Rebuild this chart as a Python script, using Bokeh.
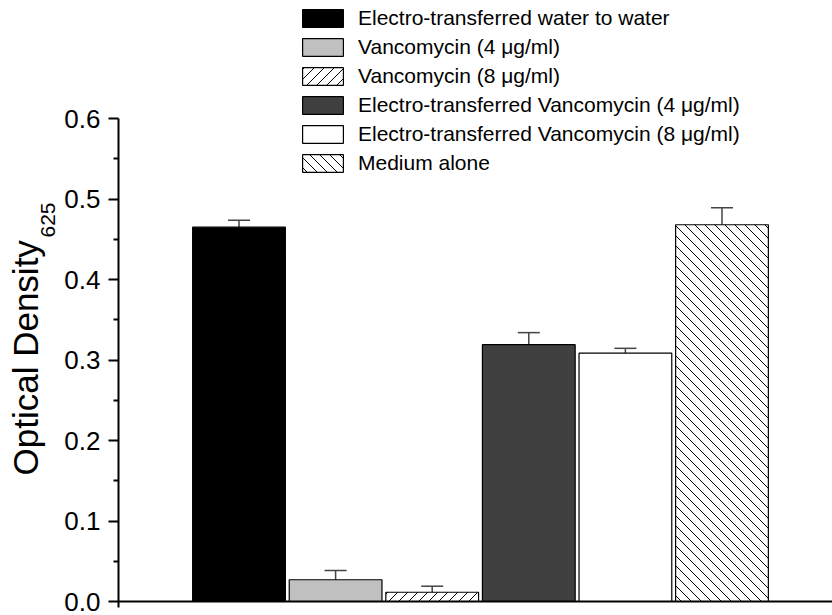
from math import pi
from urllib.parse import quote
from bokeh.plotting import figure
from bokeh.models import (ColumnDataSource, Whisker, TeeHead, Label, Legend, LegendItem,
                          FixedTicker, Range1d, PrintfTickFormatter, ImageURLTexture)
from bokeh.embed import file_html
from bokeh.resources import INLINE

# ---- data ----
categories = [
    "Electro-transferred water to water",
    "Vancomycin (4 \u03bcg/ml)",
    "Vancomycin (8 \u03bcg/ml)",
    "Electro-transferred Vancomycin (4 \u03bcg/ml)",
    "Electro-transferred Vancomycin (8 \u03bcg/ml)",
    "Medium alone",
]
x_pos = [1, 2, 3, 4, 5, 6]
values = [0.465, 0.027, 0.0115, 0.319, 0.3085, 0.468]
errors = [0.0087, 0.0115, 0.0075, 0.015, 0.006, 0.021]
fill_colors = ["#000000", "#c0c0c0", "#ffffff", "#404040", "#ffffff", "#ffffff"]
hatches = [" ", " ", "fwd", " ", " ", "back"]
y_ticks = [0.0, 0.1, 0.2, 0.3, 0.4, 0.5, 0.6]
y_minor = [0.05, 0.15, 0.25, 0.35, 0.45, 0.55]

src = ColumnDataSource(dict(
    x=x_pos, top=values, upper=[v + e for v, e in zip(values, errors)],
    color=fill_colors, hatch=hatches, label=categories,
))

FONT = "Liberation Sans"
W, H = 832, 615
PX_X = 96.6      # pixels per category
PX_Y = 805.0     # pixels per unit of optical density
axis_x = 1 - 120.5 / PX_X           # data x of the y axis
x_start = axis_x - 118 / PX_X
x_end = axis_x + (W - 118) / PX_X
y_start = -(H - 601) / PX_Y
y_end = 601 / PX_Y

p = figure(width=W, height=H, x_range=Range1d(x_start, x_end), y_range=Range1d(y_start, y_end),
           output_backend="svg", toolbar_location=None,
           min_border_left=0, min_border_right=0, min_border_top=0, min_border_bottom=0)
p.outline_line_color = None
p.xgrid.visible = False
p.ygrid.visible = False
p.background_fill_color = "white"


def tile(path):
    svg = ("<svg xmlns='http://www.w3.org/2000/svg' width='10' height='10'>"
           "<path d='%s' stroke='black' stroke-width='1' fill='none'/></svg>" % path)
    return "data:image/svg+xml," + quote(svg, safe="")


hatch_extra = {
    "back": ImageURLTexture(url=tile("M-1 -1L11 11M-1 9L1 11M9 -1L11 1")),
    "fwd": ImageURLTexture(url=tile("M-1 11L11 -1M-1 1L1 -1M9 11L11 9")),
}

r = p.vbar(x="x", top="top", bottom=0, width=0.96, source=src,
           fill_color="color", line_color="black", line_width=1.2,
           hatch_pattern="hatch", hatch_color="black", hatch_scale=10, hatch_weight=1,
           hatch_extra=hatch_extra)

wh = Whisker(source=src, base="x", lower="top", upper="upper", dimension="height",
             line_color="#444444", line_width=1.5, lower_head=None,
             upper_head=TeeHead(size=22, line_color="#444444", line_width=1.5))
p.add_layout(wh)

# y axis
ya = p.yaxis[0]
ya.fixed_location = axis_x
ya.bounds = (-6 / PX_Y, 0.6)
ya.ticker = FixedTicker(ticks=y_ticks, minor_ticks=y_minor)
ya.formatter = PrintfTickFormatter(format="%.1f")
ya.axis_line_width = 2
ya.major_tick_line_width = 2
ya.minor_tick_line_width = 2
ya.major_tick_out = 10
ya.major_tick_in = 0
ya.minor_tick_out = 5
ya.minor_tick_in = 0
ya.major_label_standoff = 8
ya.major_label_text_font = FONT
ya.major_label_text_font_size = "26px"
ya.major_label_text_color = "black"

# x axis
xa = p.xaxis[0]
xa.fixed_location = 0
xa.bounds = (axis_x, x_end)
xa.ticker = FixedTicker(ticks=[])
xa.axis_line_width = 2
xa.major_tick_out = 0
xa.major_tick_in = 0
xa.minor_tick_out = 0
xa.minor_tick_in = 0

# y axis title with subscript
p.add_layout(Label(x=25, y=H - 475, x_units="screen", y_units="screen", text="Optical Density",
                   angle=pi / 2, text_font=FONT, text_font_size="35px",
                   text_align="left", text_baseline="alphabetic", text_color="black"))
p.add_layout(Label(x=47, y=H - 237, x_units="screen", y_units="screen", text="625",
                   angle=pi / 2, text_font=FONT, text_font_size="21px",
                   text_align="left", text_baseline="alphabetic", text_color="black"))

legend = Legend(items=[LegendItem(label=categories[i], renderers=[r], index=i) for i in range(6)],
                location=(297, H - 175), orientation="vertical",
                label_text_font=FONT, label_text_font_size="21px", label_text_color="black",
                glyph_width=51, glyph_height=22, label_height=22, spacing=5,
                padding=0, margin=0, label_standoff=10,
                border_line_color=None, background_fill_alpha=0)
p.add_layout(legend)

open("out.html", "w").write(file_html(p, INLINE))
